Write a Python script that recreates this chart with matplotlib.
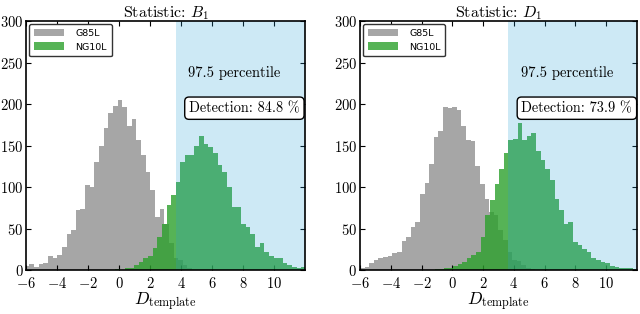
import numpy as np
import matplotlib
matplotlib.use("Agg")
import matplotlib.pyplot as plt

plt.rcParams['font.family'] = 'serif'
plt.rcParams['font.serif'] = ['cmr10', 'DejaVu Serif']
plt.rcParams['mathtext.fontset'] = 'cm'
plt.rcParams['axes.formatter.use_mathtext'] = True
plt.rcParams['axes.unicode_minus'] = True

# ---------------- data ----------------
bin_width = 0.3

# Left panel (statistic B_1)
b1_g85l_start = -6.1
b1_g85l_counts = [5, 7, 4, 7, 9, 17, 14, 18, 28, 44, 48, 72, 74, 103, 100, 130,
                  150, 171, 189, 198, 205, 197, 174, 182, 157, 139, 118, 96, 64,
                  74, 55, 32, 14, 12, 6, 2]
b1_ng10l_start = -0.25
b1_ng10l_counts = [1, 0, 3, 2, 6, 10, 14, 17, 26, 40, 55, 78, 90,
                   106, 130, 138, 139, 149, 161, 152, 148, 141, 126, 118, 100,
                   76, 76, 56, 52, 44, 28, 32, 22, 17, 14, 14, 8, 6, 4, 2, 4]

# Right panel (statistic D_1)
d1_g85l_start = -6.0
d1_g85l_counts = [3, 4, 8, 12, 15, 16, 17, 21, 22, 35, 40, 52, 58, 92, 105, 128,
                  160, 167, 197, 195, 196, 193, 174, 157, 155, 125, 104, 85, 70,
                  66, 48, 36, 22, 12, 11, 6, 3, 1]
d1_ng10l_start = -1.15
d1_ng10l_counts = [1, 1, 2, 2, 5, 7, 10, 15, 18, 22, 40, 66, 84, 104, 122, 141,
                   157, 158, 177, 157, 161, 165, 143, 133, 122, 108, 86, 72, 56,
                   58, 34, 30, 25, 22, 14, 12, 10, 8, 5, 4, 3, 2, 2, 1]

titles = [r'Statistic: $B_1$', r'Statistic: $D_1$']
thresholds = [3.65, 3.65]
detections = [84.8, 73.9]
labels = ['G85L', 'NG10L']
xlabel = r'$D_{\rm template}$'
percentile_text = '97.5 percentile'

panels = [
    (b1_g85l_start, b1_g85l_counts, b1_ng10l_start, b1_ng10l_counts),
    (d1_g85l_start, d1_g85l_counts, d1_ng10l_start, d1_ng10l_counts),
]

gray_c = '#808080'
green_c = '#2ca02c'
blue_c = (40/255, 160/255, 215/255)

fig = plt.figure(figsize=(6.4, 3.14), dpi=100)
axes_pos = [[0.041, 0.140, 0.436, 0.793], [0.5625, 0.140, 0.4325, 0.793]]

for i, (gs, gc, ns, nc) in enumerate(panels):
    ax = fig.add_axes(axes_pos[i])
    gl = gs + bin_width * np.arange(len(gc))
    nl = ns + bin_width * np.arange(len(nc))
    ax.bar(gl, gc, width=bin_width, align='edge', color=gray_c, alpha=0.7,
           lw=0, label=labels[0], zorder=1)
    ax.bar(nl, nc, width=bin_width, align='edge', color=green_c, alpha=0.8,
           lw=0, label=labels[1], zorder=2)
    ax.axvspan(thresholds[i], 12.5, color=blue_c, alpha=0.23, lw=0, zorder=3)
    ax.set_xlim(-6, 12)
    ax.set_ylim(0, 300)
    ax.set_xticks(np.arange(-6, 11, 2))
    ax.set_yticks(np.arange(0, 301, 50))
    ax.tick_params(direction='in', top=True, right=True, labelsize=10.5,
                   length=3.5, width=0.8)
    ax.tick_params(axis='x', pad=4.3)
    ax.tick_params(axis='y', pad=2)
    for sp in ax.spines.values():
        sp.set_linewidth(1.2)
        sp.set_zorder(6)
    ax.set_title(titles[i], fontsize=11.5, pad=3)
    ax.set_xlabel(xlabel, fontsize=12.5, labelpad=-0.5)
    ax.text(4.45, 237, percentile_text, fontsize=10.5, va='center', ha='left',
            zorder=5)
    ax.text(4.5, 195, 'Detection: %.1f %%' % detections[i], fontsize=10.3,
            va='center', ha='left', zorder=5,
            bbox=dict(boxstyle='round,pad=0.3', fc='white', ec='black', lw=1))
    leg = ax.legend(loc='upper left', prop={'family': 'DejaVu Sans', 'size': 6.8},
                    handlelength=3.2, handleheight=0.9, framealpha=1,
                    fancybox=True, borderaxespad=0.3, labelspacing=0.5,
                    handletextpad=1.2, borderpad=0.5)
    leg.get_frame().set_edgecolor('#333333')
    leg.get_frame().set_linewidth(1.0)
    leg.set_zorder(7)

fig.savefig('out.png', dpi=100)
